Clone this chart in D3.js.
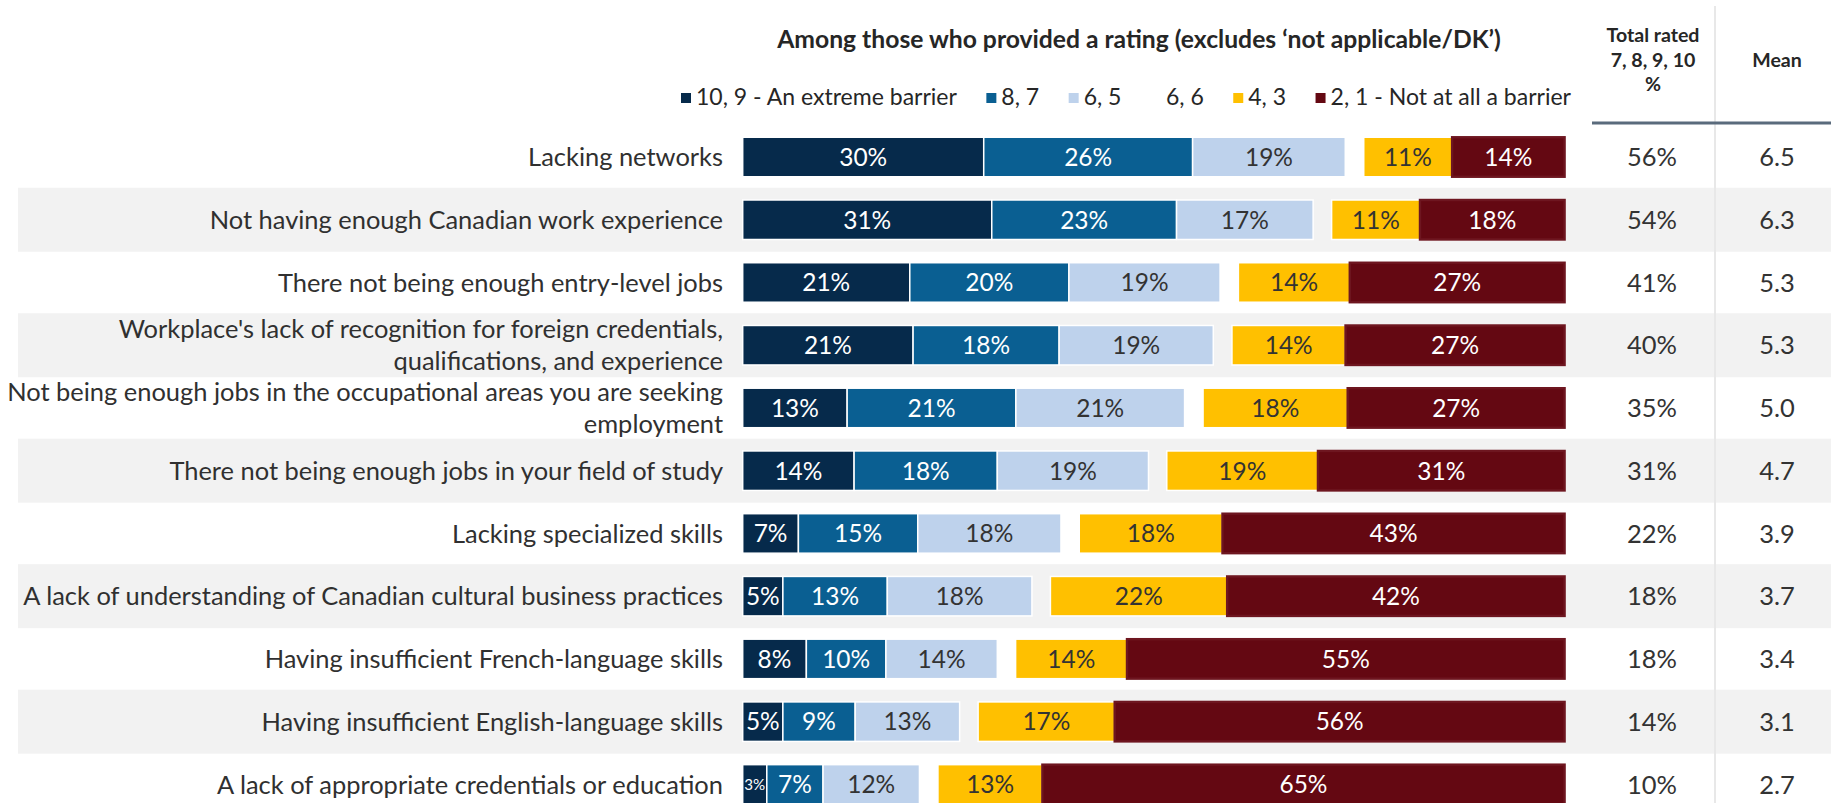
<!DOCTYPE html>
<html><head><meta charset="utf-8">
<script src="https://cdn.jsdelivr.net/npm/d3@7"></script>
<style>html,body{margin:0;padding:0;background:#fff;} svg{display:block;}</style>
</head><body>
<svg id="chart" width="1831" height="803"></svg>
<script>
// ---------------- DATA ----------------
const categories = [
  "Lacking networks",
  "Not having enough Canadian work experience",
  "There not being enough entry-level jobs",
  "Workplace's lack of recognition for foreign credentials,\nqualifications, and experience",
  "Not being enough jobs in the occupational areas you are seeking\nemployment",
  "There not being enough jobs in your field of study",
  "Lacking specialized skills",
  "A lack of understanding of Canadian cultural business practices",
  "Having insufficient French-language skills",
  "Having insufficient English-language skills",
  "A lack of appropriate credentials or education"
];
const seriesNames = ["10, 9 - An extreme barrier", "8, 7", "6, 5", "6, 6", "4, 3", "2, 1 - Not at all a barrier"];
const s109 = [30, 31, 21, 21, 13, 14, 7, 5, 8, 5, 3];
const s87  = [26, 23, 20, 18, 21, 18, 15, 13, 10, 9, 7];
const s65  = [19, 17, 19, 19, 21, 19, 18, 18, 14, 13, 12];
const s66  = [2.3, 2.3, 2.3, 2.3, 2.3, 2.3, 2.3, 2.3, 2.3, 2.3, 2.3]; // blank spacer series
const s43  = [11, 11, 14, 14, 18, 19, 18, 22, 14, 17, 13];
const s21  = [14, 18, 27, 27, 27, 31, 43, 42, 55, 56, 65];
const totalRated = [56, 54, 41, 40, 35, 31, 22, 18, 18, 14, 10];
const means = [6.5, 6.3, 5.3, 5.3, 5.0, 4.7, 3.9, 3.7, 3.4, 3.1, 2.7];
const titleText = "Among those who provided a rating (excludes \u2018not applicable/DK\u2019)";
const colHeaderTotal = ["Total rated", "7, 8, 9, 10", "%"];
const colHeaderMean = "Mean";

// ---------------- STYLE ----------------
const FONT = "Lato, 'Open Sans', sans-serif";
const colors = ["#062a4b", "#0a5f92", "#bed2ec", "#ffffff", "#ffc000", "#640812"];
const labelColors = ["#ffffff", "#ffffff", "#333333", null, "#333333", "#ffffff"];

const svg = d3.select("#chart");
const W = 1831, H = 803;

function fitSize(text, weight, target) {
  const t = svg.append("text").attr("font-family", FONT).attr("font-weight", weight)
    .attr("font-size", 100).text(text);
  const w = t.node().getComputedTextLength();
  t.remove();
  return 100 * target / w;
}
const catSize = fitSize("A lack of understanding of Canadian cultural business practices", 400, 700);
const valSize = fitSize("30%", 400, 48);
const smallValSize = fitSize("3%", 400, 21);
const colValSize = fitSize("56%", 400, 50);
const titleSize = fitSize(titleText, 700, 724);
const legendSize = fitSize("10, 9 - An extreme barrier", 400, 261);
const headSize = fitSize("Total rated", 700, 93);

// ---------------- SCALES ----------------
const rows = categories.map((c, i) => ({
  cat: c,
  [seriesNames[0]]: s109[i], [seriesNames[1]]: s87[i], [seriesNames[2]]: s65[i],
  [seriesNames[3]]: s66[i], [seriesNames[4]]: s43[i], [seriesNames[5]]: s21[i]
}));
const stacked = d3.stack().keys(seriesNames).offset(d3.stackOffsetExpand)(rows);

const x = d3.scaleLinear().domain([0, 1]).range([742.7, 1564.6]);
const y = d3.scalePoint().domain(categories).range([157, 784.4]);
const step = y.step();
const barH = 39.5;

// ---------------- BACKGROUND BANDS ----------------
svg.append("g").selectAll("rect").data(categories.filter((d, i) => i % 2 === 1)).join("rect")
  .attr("x", 18).attr("width", W - 18)
  .attr("y", d => y(d) - 32).attr("height", 64)
  .attr("fill", "#f2f2f2");

// column separator
svg.append("line").attr("x1", 1715).attr("x2", 1715).attr("y1", 6).attr("y2", H)
  .attr("stroke", "#e8e8e8").attr("stroke-width", 2);

// ---------------- BARS ----------------
const gBars = svg.append("g");
stacked.forEach((layer, si) => {
  if (si === 3) return; // blank spacer
  gBars.append("g").selectAll("rect").data(layer).join("rect")
    .attr("x", d => x(d[0]))
    .attr("width", d => x(d[1]) - x(d[0]))
    .attr("y", d => y(d.data.cat) - barH / 2)
    .attr("height", barH)
    .attr("fill", colors[si])
    .attr("stroke", si === 5 ? "#6e1620" : "#ffffff")
    .attr("stroke-width", si === 5 ? 2.4 : 1.5);
});

// clip labels to plot area
svg.append("clipPath").attr("id", "plotClip").append("rect")
  .attr("x", 742.7).attr("y", 0).attr("width", 1564.6 - 742.7).attr("height", H);
const gLabels = svg.append("g").attr("clip-path", "url(#plotClip)");
const seriesValues = [s109, s87, s65, s66, s43, s21];
stacked.forEach((layer, si) => {
  if (si === 3) return;
  gLabels.append("g").selectAll("text").data(layer).join("text")
    .attr("x", d => (x(d[0]) + x(d[1])) / 2)
    .attr("y", d => y(d.data.cat))
    .attr("dy", "0.36em")
    .attr("text-anchor", "middle")
    .attr("font-family", FONT)
    .attr("font-size", (d, i) => seriesValues[si][i] <= 3 ? smallValSize : valSize)
    .attr("fill", labelColors[si])
    .text((d, i) => seriesValues[si][i] + "%");
});

// ---------------- CATEGORY LABELS ----------------
const gCat = svg.append("g");
categories.forEach(c => {
  const lines = c.split("\n");
  const lh = 31.8;
  lines.forEach((ln, li) => {
    gCat.append("text")
      .attr("x", 723)
      .attr("y", y(c) + (li - (lines.length - 1) / 2) * lh)
      .attr("dy", "0.36em")
      .attr("text-anchor", "end")
      .attr("font-family", FONT)
      .attr("font-size", catSize)
      .attr("fill", "#303030")
      .text(ln);
  });
});

// ---------------- RIGHT COLUMNS ----------------
svg.append("g").selectAll("text").data(categories).join("text")
  .attr("x", 1652).attr("y", d => y(d)).attr("dy", "0.36em")
  .attr("text-anchor", "middle").attr("font-family", FONT).attr("font-size", colValSize)
  .attr("fill", "#333333")
  .text((d, i) => totalRated[i] + "%");
svg.append("g").selectAll("text").data(categories).join("text")
  .attr("x", 1777).attr("y", d => y(d)).attr("dy", "0.36em")
  .attr("text-anchor", "middle").attr("font-family", FONT).attr("font-size", colValSize)
  .attr("fill", "#333333")
  .text((d, i) => d3.format(".1f")(means[i]));

// column headers
const headY = [42, 67, 91];
colHeaderTotal.forEach((t, i) => {
  svg.append("text").attr("x", 1653).attr("y", headY[i]).attr("text-anchor", "middle")
    .attr("font-family", FONT).attr("font-weight", 700).attr("font-size", headSize)
    .attr("fill", "#262626").text(t);
});
svg.append("text").attr("x", 1777).attr("y", 67).attr("text-anchor", "middle")
  .attr("font-family", FONT).attr("font-weight", 700).attr("font-size", headSize)
  .attr("fill", "#262626").text(colHeaderMean);
svg.append("line").attr("x1", 1592).attr("x2", W).attr("y1", 123).attr("y2", 123)
  .attr("stroke", "#5a6b7c").attr("stroke-width", 3);

// ---------------- TITLE ----------------
svg.append("text").attr("x", 1139).attr("y", 48).attr("text-anchor", "middle")
  .attr("font-family", FONT).attr("font-weight", 700).attr("font-size", titleSize)
  .attr("fill", "#262626").text(titleText);

// ---------------- LEGEND ----------------
const gLeg = svg.append("g");
const legStart = 681, legEnd = 1571, sw = 10, swPad = 5;
const legTexts = seriesNames.map(n => {
  const t = gLeg.append("text").attr("font-family", FONT).attr("font-size", legendSize)
    .attr("fill", "#262626").attr("y", 105).text(n);
  return { t, w: t.node().getComputedTextLength() };
});
const usedW = d3.sum(legTexts, d => d.w + sw + swPad);
const legGap = (legEnd - legStart - usedW) / (seriesNames.length - 1);
let lx = legStart;
legTexts.forEach((d, i) => {
  gLeg.append("rect").attr("x", lx).attr("y", 93).attr("width", sw).attr("height", sw)
    .attr("fill", colors[i]);
  d.t.attr("x", lx + sw + swPad);
  lx += sw + swPad + d.w + legGap;
});
</script>
</body></html>
